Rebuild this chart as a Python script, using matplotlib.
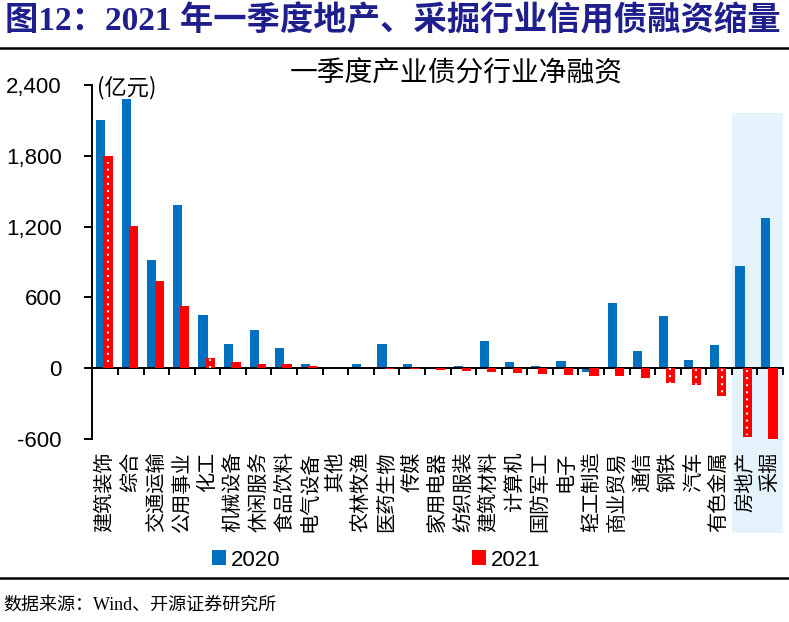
import matplotlib
matplotlib.use('Agg')
import matplotlib.pyplot as plt
from matplotlib.patches import Rectangle
from matplotlib.lines import Line2D
from matplotlib.transforms import blended_transform_factory
import numpy as np

plt.rcParams['font.family'] = ['Noto Sans CJK SC', 'DejaVu Sans']

# 数据 (亿元)
categories = ['建筑装饰', '综合', '交通运输', '公用事业', '化工', '机械设备', '休闲服务',
              '食品饮料', '电气设备', '其他', '农林牧渔', '医药生物', '传媒', '家用电器',
              '纺织服装', '建筑材料', '计算机', '国防军工', '电子', '轻工制造', '商业贸易',
              '通信', '钢铁', '汽车', '有色金属', '房地产', '采掘']
v2020 = [2106, 2284, 920, 1384, 450, 204, 325, 167, 34, 0, 34, 204, 34, 6,
         15, 226, 48, 20, 62, -34, 549, 147, 444, 68, 198, 862, 1270]
v2021 = [1800, 1206, 739, 524, 85, 51, 37, 37, 17, 0, -3, -8, -8, -20,
         -28, -37, -45, -54, -59, -65, -68, -85, -127, -147, -235, -585, -602]
yticks = [-600, 0, 600, 1200, 1800, 2400]
ytick_labels = ['-600', '0', '600', '1,200', '1,800', '2,400']
highlight = ['房地产', '采掘']
dotted = ['建筑装饰', '化工', '钢铁', '汽车', '有色金属', '房地产']

BLUE = '#0070C0'
RED = '#FF0000'
NAVY = '#1E1E8C'
latin = ['Liberation Sans', 'Noto Sans CJK SC']
serif = ['Liberation Serif', 'Noto Sans CJK SC']

fig = plt.figure(figsize=(7.89, 6.22), dpi=100)
ax = fig.add_axes([0.1172, 0.2946, 0.8752, 0.5687])

x = np.arange(len(categories))
ax.bar(x - 0.18, v2020, width=0.36, color=BLUE, label='2020', zorder=2)
ax.bar(x + 0.11, v2021, width=0.36, color=RED, label='2021', zorder=3)

# white dotted artefact inside some red bars
for cat in dotted:
    i = categories.index(cat)
    v = v2021[i]
    ax.plot([i + 0.1, i + 0.1], [v * 0.03, v * 0.97], color='white', lw=1.5,
            linestyle=(0, (1, 2.4)), zorder=4)

ax.set_xlim(-0.5, len(categories) - 0.5)
ax.set_ylim(-600, 2400)
ax.set_yticks(yticks)
ax.set_yticklabels(ytick_labels, family=latin, fontsize=16)
ax.set_xticks(np.arange(-0.5, len(categories), 1))
ax.tick_params(axis='x', direction='out', length=5, width=1.4, labelbottom=False)
ax.tick_params(axis='y', direction='out', length=6, width=1.4, pad=16)

for s in ['top', 'right']:
    ax.spines[s].set_visible(False)
ax.spines['bottom'].set_position(('data', 0))
ax.spines['bottom'].set_linewidth(1.4)
ax.spines['left'].set_linewidth(1.4)

# category labels, vertical, under the plot
trans = blended_transform_factory(ax.transData, fig.transFigure)
for i, cat in enumerate(categories):
    ax.text(i, 1 - 452 / 622, cat, rotation=90, ha='center', va='top',
            fontsize=14.5, transform=trans, clip_on=False, zorder=5)

# highlight box
i0 = categories.index(highlight[0])
ax.add_patch(Rectangle((i0 - 0.5, 1 - 533 / 622), len(highlight), (533 - 113) / 622,
                       transform=trans, facecolor='#E5F4FC', edgecolor='none',
                       clip_on=False, zorder=0))

# legend
handles, labels = ax.get_legend_handles_labels()
fig.legend(handles, labels, loc='center left', bbox_to_anchor=(212 / 789, 1 - 560 / 622),
           ncol=2, frameon=False, prop={'family': latin, 'size': 16},
           handlelength=0.65, handleheight=0.65, handletextpad=0.2,
           columnspacing=8.6, borderpad=0, borderaxespad=0)

# texts
fig.text(5 / 789, 1 - 21 / 622, '图12：2021 年一季度地产、采掘行业信用债融资缩量',
         ha='left', va='center', fontsize=24, fontweight='bold', color=NAVY, family=serif)
fig.text(456 / 789, 1 - 73 / 622, '一季度产业债分行业净融资', ha='center', va='center',
         fontsize=20)
fig.text(97 / 789, 1 - 88 / 622, '(亿元)', ha='left', va='center', fontsize=16)
fig.text(3 / 789, 1 - 605 / 622, '数据来源：Wind、开源证券研究所', ha='left', va='center',
         fontsize=13, family=serif)

fig.add_artist(Line2D([0, 1], [1 - 48 / 622] * 2, color='black', lw=1.8,
                      transform=fig.transFigure))
fig.add_artist(Line2D([0, 1], [1 - 578 / 622] * 2, color='black', lw=1.8,
                      transform=fig.transFigure))

fig.savefig('out.png', dpi=100)
